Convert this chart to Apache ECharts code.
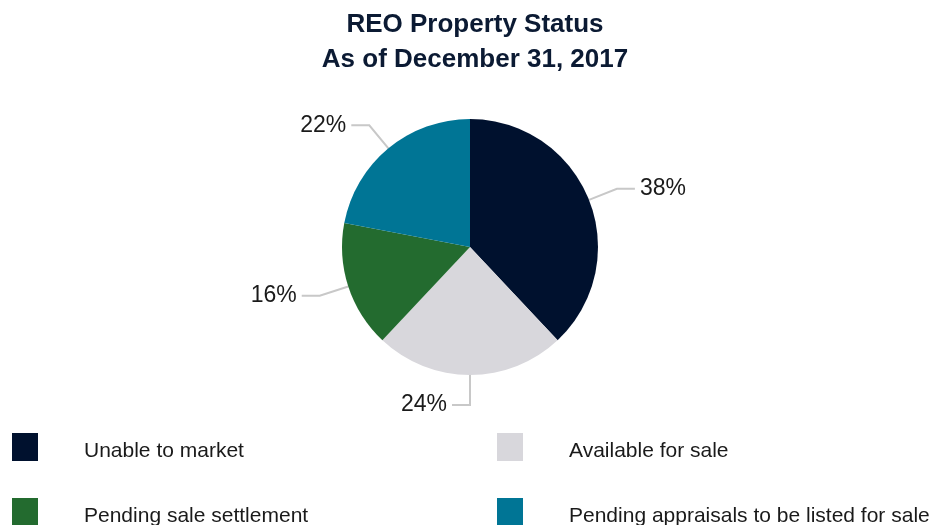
<!DOCTYPE html>
<html>
<head>
<meta charset="utf-8">
<script src="https://cdn.jsdelivr.net/npm/echarts@6/dist/echarts.min.js"></script>
<style>
  html, body { margin: 0; padding: 0; background: #fff; }
  #chart { width: 937px; height: 525px; }
</style>
</head>
<body>
<div id="chart"></div>
<script>
  const categories = ['Unable to market', 'Available for sale', 'Pending sale settlement', 'Pending appraisals to be listed for sale'];
  const shares = [38, 24, 16, 22];
  const colors = ['#00112e', '#d8d7dc', '#236b2f', '#007595'];

  let chart = echarts.init(document.getElementById('chart'));
  const font = 'Liberation Sans, Arial, sans-serif';

  // one legend per item so the 2x2 grid sits where the reference has it
  const legendSpots = [[7, 428], [492, 428], [7, 493], [492, 493]];
  const legends = categories.map((name, i) => ({
    left: legendSpots[i][0],
    top: legendSpots[i][1],
    icon: 'rect',
    itemWidth: 26,
    itemHeight: 28,
    selectedMode: false,
    data: [name],
    formatter: '{t|{name}}',
    textStyle: {
      rich: {
        t: {
          fontFamily: font,
          fontSize: 21,
          color: '#1a1a1a',
          padding: [8, 0, 0, 41]
        }
      }
    }
  }));

  chart.setOption({
    color: colors,
    title: {
      text: 'REO Property Status\nAs of December 31, 2017',
      left: 470,
      textAlign: 'center',
      top: 2,
      textStyle: {
        fontFamily: font,
        fontSize: 26,
        fontWeight: 'bold',
        color: '#0b1a33',
        lineHeight: 35
      }
    },
    legend: legends,
    series: [{
      type: 'pie',
      center: [470, 247],
      radius: 128,
      startAngle: 90,
      animation: false,
      emphasis: { disabled: true },
      label: {
        formatter: '{c}%',
        fontFamily: font,
        fontSize: 23,
        color: '#1a1a1a'
      },
      labelLine: {
        length: 30,
        length2: 18,
        lineStyle: { color: '#c8c8c8', width: 2 }
      },
      data: categories.map((name, i) => ({ name: name, value: shares[i] }))
    }]
  });
</script>
</body>
</html>
